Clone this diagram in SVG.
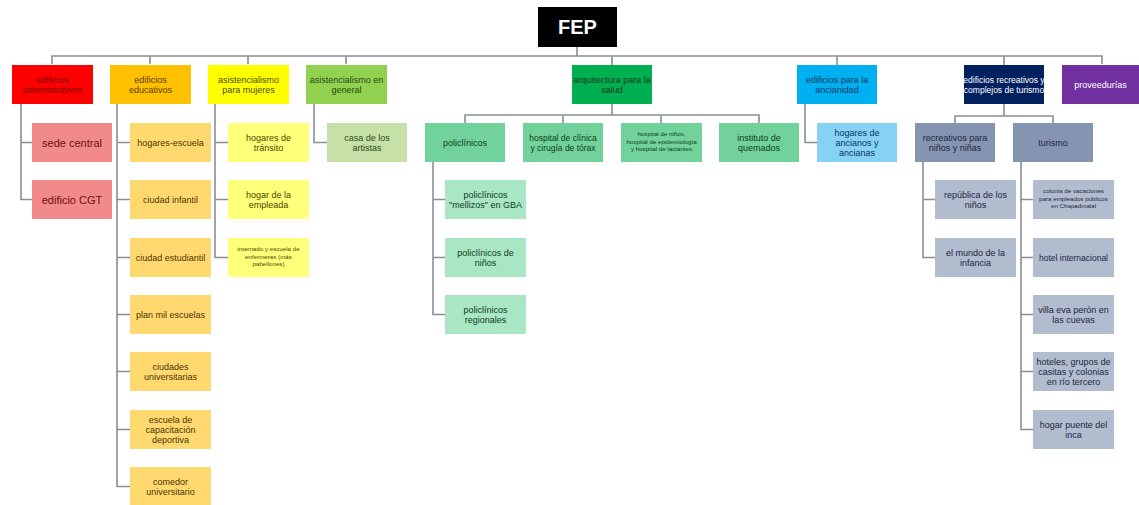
<svg xmlns="http://www.w3.org/2000/svg" width="1139" height="505" viewBox="0 0 1139 505">
<style>
text{font-family:"Liberation Sans",Arial,sans-serif;font-size:9px;text-anchor:middle}
.t{font-size:8.5px}
.s{font-size:6.2px}
.b{font-size:11px}
.w{fill:#ffffff}
.conn path{fill:none;stroke:#8a8e98;stroke-width:1.6}
</style>
<rect width="1139" height="505" fill="#ffffff"/>
<g class="conn">
<path d="M577,47V56M52,64V56H1102V64M150,56V64M248,56V64M346,56V64M612,56V65M837,56V65M1004,56V65"/>
<path d="M21,104V199.5H32M21,142.5H32"/>
<path d="M117,104V486.5H130M117,142.5H130M117,199.5H130M117,257.5H130M117,314.5H130M117,371.5H130M117,429.5H130"/>
<path d="M215,104V257.5H228M215,142.5H228M215,199.5H228"/>
<path d="M314,104V142.5H327"/>
<path d="M612,104V115M465,123V115H759V123M563,115V123M661,115V123"/>
<path d="M433,162V314.5H445M433,199.5H445M433,257.5H445"/>
<path d="M805,104V142.5H817"/>
<path d="M1004,104V116M955,123V116H1053V123"/>
<path d="M923,162V257.5H935M923,199.5H935"/>
<path d="M1021,162V429.5H1033M1021,199.5H1033M1021,257.5H1033M1021,314.5H1033M1021,371.5H1033"/>
</g>
<g id="fep"><rect x="538" y="7" width="79" height="40" fill="#000000"/><text x="577.5" y="34" class="w" style="font-size:20px;font-weight:bold">FEP</text></g>

<g id="n-admin"><rect x="12" y="65" width="81" height="39" fill="#ff0000"/><text x="52.5" y="82.5" fill="#7a0000">edificios</text><text x="52.5" y="92.5" fill="#7a0000">administrativos</text></g>
<g id="n-edu"><rect x="110" y="65" width="81" height="39" fill="#ffc000"/><text x="150.5" y="82.5" fill="#5a3c00">edificios</text><text x="150.5" y="92.5" fill="#5a3c00">educativos</text></g>
<g id="n-muj"><rect x="208" y="65" width="81" height="39" fill="#ffff00"/><text x="248.5" y="82.5" fill="#4a4a00">asistencialismo</text><text x="248.5" y="92.5" fill="#4a4a00">para mujeres</text></g>
<g id="n-gen"><rect x="306" y="65" width="81" height="39" fill="#92d050"/><text x="346.5" y="82.5" fill="#2a4a12">asistencialismo en</text><text x="346.5" y="92.5" fill="#2a4a12">general</text></g>
<g id="n-salud"><rect x="572" y="65" width="80" height="39" fill="#00b050"/><text x="612" y="82.5" fill="#08381b">arquitectura para la</text><text x="612" y="92.5" fill="#08381b">salud</text></g>
<g id="n-anc"><rect x="797" y="65" width="80" height="39" fill="#00b0f0"/><text x="837" y="82.5" fill="#063a66">edificios para la</text><text x="837" y="92.5" fill="#063a66">ancianidad</text></g>
<g id="n-rec"><rect x="964" y="65" width="80" height="39" fill="#002060"/><text x="1004" y="82.5" class="t w">edificios recreativos y</text><text x="1004" y="92.5" class="t w">complejos de turismo</text></g>
<g id="n-prov"><rect x="1062" y="65" width="77" height="39" fill="#7030a0"/><text x="1100.5" y="87.5" class="w">proveedurías</text></g>

<g id="n-sede"><rect x="32" y="123" width="80" height="39" fill="#f28a8a"/><text x="72" y="146.5" class="b" fill="#6e1010">sede central</text></g>
<g id="n-cgt"><rect x="32" y="180" width="80" height="39" fill="#f28a8a"/><text x="72" y="203.5" class="b" fill="#6e1010">edificio CGT</text></g>

<g id="n-he"><rect x="130" y="123" width="81" height="39" fill="#ffd970"/><text x="170.5" y="145.5" fill="#4a3500">hogares-escuela</text></g>
<g id="n-ci"><rect x="130" y="180" width="81" height="39" fill="#ffd970"/><text x="170.5" y="202.5" fill="#4a3500">ciudad infantil</text></g>
<g id="n-ce"><rect x="130" y="238" width="81" height="39" fill="#ffd970"/><text x="170.5" y="260.5" fill="#4a3500">ciudad estudiantil</text></g>
<g id="n-pme"><rect x="130" y="295" width="81" height="39" fill="#ffd970"/><text x="170.5" y="317.5" fill="#4a3500">plan mil escuelas</text></g>
<g id="n-cu"><rect x="130" y="352" width="81" height="39" fill="#ffd970"/><text x="170.5" y="369.5" fill="#4a3500">ciudades</text><text x="170.5" y="379.5" fill="#4a3500">universitarias</text></g>
<g id="n-ecd"><rect x="130" y="410" width="81" height="39" fill="#ffd970"/><text x="170.5" y="422.5" fill="#4a3500">escuela de</text><text x="170.5" y="432.5" fill="#4a3500">capacitación</text><text x="170.5" y="442.5" fill="#4a3500">deportiva</text></g>
<g id="n-com"><rect x="130" y="467" width="81" height="39" fill="#ffd970"/><text x="170.5" y="484.5" fill="#4a3500">comedor</text><text x="170.5" y="494.5" fill="#4a3500">universitario</text></g>

<g id="n-ht"><rect x="228" y="123" width="81" height="39" fill="#ffff7a"/><text x="268.5" y="140.5" fill="#4a4a00">hogares de</text><text x="268.5" y="150.5" fill="#4a4a00">tránsito</text></g>
<g id="n-hem"><rect x="228" y="180" width="81" height="39" fill="#ffff7a"/><text x="268.5" y="197.5" fill="#4a4a00">hogar de la</text><text x="268.5" y="207.5" fill="#4a4a00">empleada</text></g>
<g id="n-int"><rect x="228" y="238" width="81" height="39" fill="#ffff7a"/><text x="268.5" y="251" class="s" fill="#4a4a00">internado y escuela de</text><text x="268.5" y="258.5" class="s" fill="#4a4a00">enfermeras (más</text><text x="268.5" y="266" class="s" fill="#4a4a00">pabellones)</text></g>

<g id="n-art"><rect x="327" y="123" width="80" height="39" fill="#c6e0a8"/><text x="367" y="140.5" fill="#2a4a12">casa de los</text><text x="367" y="150.5" fill="#2a4a12">artistas</text></g>

<g id="n-pol"><rect x="425" y="123" width="80" height="39" fill="#72d29c"/><text x="465" y="145.5" fill="#0d3d20">policlínicos</text></g>
<g id="n-hc"><rect x="523" y="123" width="80" height="39" fill="#72d29c"/><text x="563" y="140.5" class="t" fill="#0d3d20">hospital de clínica</text><text x="563" y="150.5" class="t" fill="#0d3d20">y cirugía de tórax</text></g>
<g id="n-hn"><rect x="621" y="123" width="81" height="39" fill="#72d29c"/><text x="661.5" y="136" class="s" fill="#0d3d20">hospital de niños,</text><text x="661.5" y="143.5" class="s" fill="#0d3d20">hospital de epidemiología</text><text x="661.5" y="151" class="s" fill="#0d3d20">y hospital de lactantes</text></g>
<g id="n-iq"><rect x="719" y="123" width="80" height="39" fill="#72d29c"/><text x="759" y="140.5" fill="#0d3d20">instituto de</text><text x="759" y="150.5" fill="#0d3d20">quemados</text></g>

<g id="n-pm"><rect x="445" y="180" width="81" height="39" fill="#a8e6c4"/><text x="485.5" y="197.5" fill="#0d3d20">policlínicos</text><text x="485.5" y="207.5" fill="#0d3d20">"mellizos" en GBA</text></g>
<g id="n-pn"><rect x="445" y="238" width="81" height="39" fill="#a8e6c4"/><text x="485.5" y="255.5" fill="#0d3d20">policlínicos de</text><text x="485.5" y="265.5" fill="#0d3d20">niños</text></g>
<g id="n-pr"><rect x="445" y="295" width="81" height="39" fill="#a8e6c4"/><text x="485.5" y="312.5" fill="#0d3d20">policlínicos</text><text x="485.5" y="322.5" fill="#0d3d20">regionales</text></g>

<g id="n-ha"><rect x="817" y="123" width="80" height="39" fill="#85d2f5"/><text x="857" y="136" fill="#0a3560">hogares de</text><text x="857" y="146" fill="#0a3560">ancianos y</text><text x="857" y="156" fill="#0a3560">ancianas</text></g>

<g id="n-rnn"><rect x="915" y="123" width="80" height="39" fill="#8594b0"/><text x="955" y="140.5" fill="#1c2640">recreativos para</text><text x="955" y="150.5" fill="#1c2640">niños y niñas</text></g>
<g id="n-tur"><rect x="1013" y="123" width="80" height="39" fill="#8594b0"/><text x="1053" y="145.5" fill="#1c2640">turismo</text></g>

<g id="n-rep"><rect x="935" y="180" width="81" height="39" fill="#b2bccf"/><text x="975.5" y="197.5" fill="#1c2640">república de los</text><text x="975.5" y="207.5" fill="#1c2640">niños</text></g>
<g id="n-mun"><rect x="935" y="238" width="81" height="39" fill="#b2bccf"/><text x="975.5" y="255.5" fill="#1c2640">el mundo de la</text><text x="975.5" y="265.5" fill="#1c2640">infancia</text></g>

<g id="n-col"><rect x="1033" y="180" width="81" height="39" fill="#b2bccf"/><text x="1073.5" y="193" class="s" fill="#1c2640">colonia de vacaciones</text><text x="1073.5" y="200.5" class="s" fill="#1c2640">para empleados públicos</text><text x="1073.5" y="208" class="s" fill="#1c2640">en Chapadmalal</text></g>
<g id="n-hot"><rect x="1033" y="238" width="81" height="39" fill="#b2bccf"/><text x="1073.5" y="260.5" class="t" fill="#1c2640">hotel internacional</text></g>
<g id="n-vep"><rect x="1033" y="295" width="81" height="39" fill="#b2bccf"/><text x="1073.5" y="312.5" fill="#1c2640">villa eva perón en</text><text x="1073.5" y="322.5" fill="#1c2640">las cuevas</text></g>
<g id="n-rio"><rect x="1033" y="352" width="81" height="39" fill="#b2bccf"/><text x="1073.5" y="364.5" fill="#1c2640">hoteles, grupos de</text><text x="1073.5" y="374.5" fill="#1c2640">casitas y colonias</text><text x="1073.5" y="384.5" fill="#1c2640">en río tercero</text></g>
<g id="n-inca"><rect x="1033" y="410" width="81" height="39" fill="#b2bccf"/><text x="1073.5" y="427.5" fill="#1c2640">hogar puente del</text><text x="1073.5" y="437.5" fill="#1c2640">inca</text></g>
</svg>
